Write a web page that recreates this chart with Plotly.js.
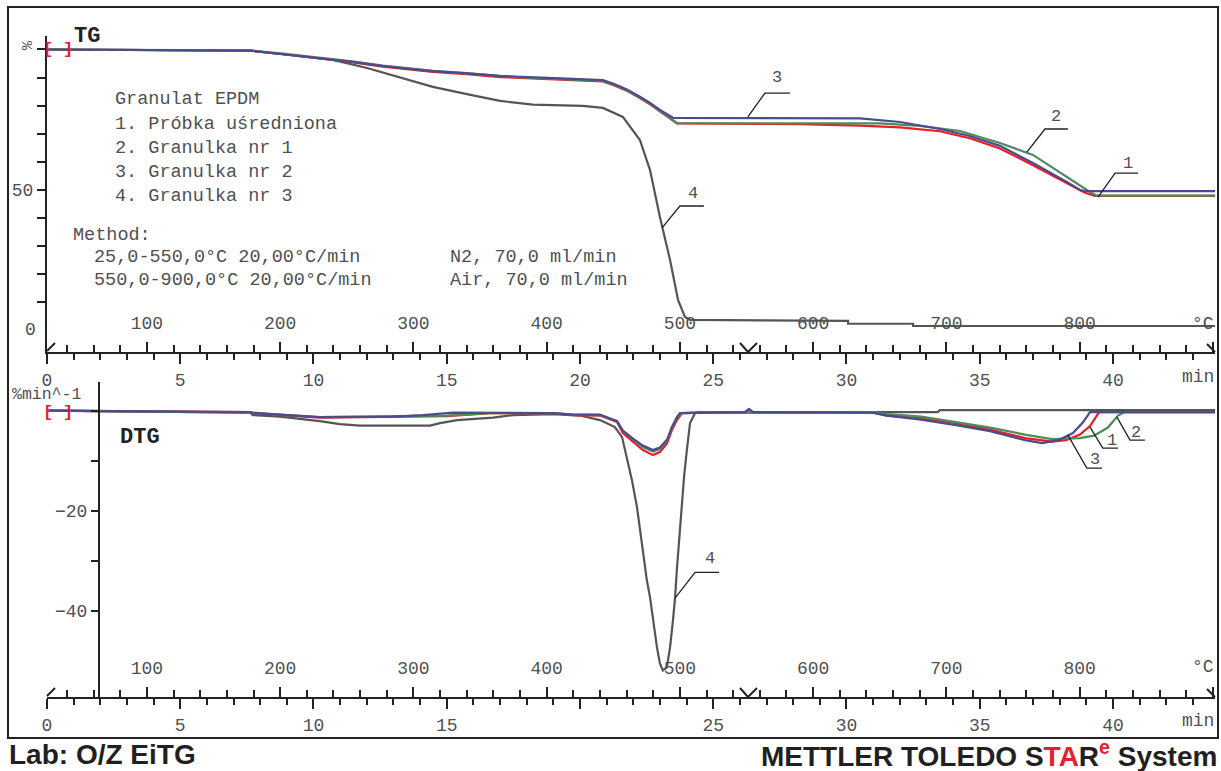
<!DOCTYPE html>
<html><head><meta charset="utf-8">
<script src="https://cdn.plot.ly/plotly-3.0.1.min.js"></script>
<style>body{margin:0;background:#fff}</style>
</head><body><div id="chart" style="width:1221px;height:771px"></div>
<script>
// ---------- DATA (time in min, TG in %, DTG in %/min) ----------
const tg1_t = [0, 7.62, 8.86, 10.13, 11.37, 12.61, 14.48, 15.76, 17.0, 19.51, 20.86, 21.24, 21.76, 22.25, 22.63, 23.0, 23.27, 23.49, 23.64, 28.26, 30.51, 32.01, 33.51, 34.63, 35.76, 37.0, 38.27, 38.95, 39.32, 43.83];
const tg1_v = [100, 99.6, 98.3, 97.0, 95.6, 93.9, 92.0, 91.2, 90.2, 89.2, 88.6, 87.4, 85.3, 82.7, 80.5, 78.0, 76.2, 74.9, 73.7, 73.4, 72.9, 72.3, 70.9, 68.4, 64.8, 58.8, 52.4, 49.0, 47.9, 47.9];
const tg2_t = [0, 7.62, 8.86, 10.13, 11.37, 12.61, 14.48, 15.76, 17.0, 19.51, 20.86, 21.24, 21.76, 22.25, 22.63, 23.0, 23.27, 23.49, 23.64, 31.26, 32.76, 34.26, 35.76, 37.0, 38.27, 39.14, 39.4, 43.83];
const tg2_v = [100, 99.7, 98.5, 97.3, 95.9, 94.3, 92.4, 91.6, 90.5, 89.4, 88.8, 87.6, 85.5, 82.9, 80.7, 78.2, 76.4, 75.0, 73.8, 73.7, 72.8, 71.0, 66.7, 62.5, 54.6, 49.3, 48.0, 48.0];
const tg3_t = [0, 7.62, 8.86, 10.13, 11.37, 12.61, 14.48, 15.76, 17.0, 19.51, 20.86, 21.24, 21.76, 22.25, 22.63, 23.0, 23.27, 23.49, 30.51, 32.01, 33.51, 34.63, 35.76, 37.0, 38.27, 38.76, 38.95, 43.83];
const tg3_v = [100, 99.6, 98.3, 97.1, 95.7, 94.1, 92.3, 91.5, 90.6, 89.6, 89.1, 87.9, 85.8, 83.2, 81.0, 78.5, 76.9, 75.7, 75.5, 74.2, 71.7, 69.2, 65.7, 59.6, 52.9, 50.0, 49.6, 49.6];
const tg4_t = [0, 7.62, 8.86, 10.13, 10.73, 12.01, 13.25, 14.48, 15.76, 17.0, 18.24, 20.11, 20.86, 21.61, 22.25, 22.63, 23.0, 23.38, 23.68, 23.94, 24.13, 30.06, 30.06, 32.5, 32.5, 43.83];
const tg4_v = [100, 99.6, 98.3, 97.0, 96.3, 93.4, 89.9, 86.7, 84.1, 81.7, 80.4, 79.9, 79.2, 76.0, 67.8, 57.1, 40.4, 25.1, 10.9, 4.8, 3.8, 3.4, 2.4, 2.4, 1.6, 1.6];

const dtg1_t = [0, 5, 7.62, 7.73, 8.74, 10.24, 15.01, 16.62, 18.99, 19.74, 20.75, 21.39, 21.61, 21.99, 22.36, 22.74, 23.0, 23.27, 23.45, 23.64, 23.83, 24.5, 30.99, 31.52, 32.8, 34.11, 35.39, 36.7, 37.71, 38.24, 38.76, 39.14, 39.48, 43.83];
const dtg1_v = [0, -0.2, -0.3, -0.5, -0.9, -1.4, -1.1, -0.5, -0.5, -0.9, -1.0, -2.3, -4.5, -6.3, -7.9, -8.9, -8.3, -6.5, -3.9, -1.9, -0.5, -0.4, -0.4, -1.0, -1.5, -2.5, -3.8, -5.5, -6.2, -5.9, -4.8, -3.1, -0.3, -0.3];
const dtg2_t = [0, 5, 7.62, 7.73, 8.74, 10.24, 15.01, 16.62, 18.99, 19.74, 20.75, 21.39, 21.61, 21.99, 22.36, 22.74, 23.0, 23.27, 23.45, 23.64, 23.83, 24.5, 30.99, 31.52, 32.8, 34.11, 35.39, 36.7, 37.71, 38.76, 39.29, 39.81, 40.19, 40.45, 43.83];
const dtg2_v = [0, -0.2, -0.3, -0.4, -0.8, -1.3, -1.0, -0.5, -0.5, -0.8, -0.9, -2.1, -4.1, -5.8, -7.3, -8.2, -7.7, -6.0, -3.5, -1.4, -0.5, -0.4, -0.3, -0.7, -1.2, -2.3, -3.4, -4.8, -5.7, -5.5, -5.0, -3.4, -1.0, -0.3, -0.3];
const dtg3_t = [0, 5, 7.62, 7.73, 8.74, 10.24, 12.98, 14.11, 15.24, 18.99, 19.74, 20.75, 21.39, 21.61, 21.99, 22.36, 22.74, 23.0, 23.27, 23.45, 23.64, 23.75, 26.19, 26.34, 26.49, 30.99, 31.52, 32.8, 34.11, 35.39, 36.7, 37.34, 37.97, 38.5, 38.87, 39.14, 43.83];
const dtg3_v = [0, -0.2, -0.3, -0.5, -0.8, -1.3, -1.2, -0.9, -0.4, -0.5, -0.8, -0.8, -2.1, -4.0, -5.6, -7.0, -7.9, -7.4, -5.8, -3.3, -1.3, -0.5, -0.3, 0.3, -0.3, -0.4, -1.0, -1.8, -2.9, -4.1, -5.9, -6.5, -5.9, -4.5, -2.4, -0.3, -0.3];
const dtg4_t = [0, 5, 7.62, 7.73, 8.74, 10.24, 10.99, 11.75, 14.37, 14.75, 15.39, 16.74, 17.49, 18.99, 20.0, 20.75, 21.31, 21.58, 21.76, 21.95, 22.14, 22.25, 22.36, 22.51, 22.63, 22.74, 22.89, 23.0, 23.11, 23.26, 23.38, 23.49, 23.57, 23.64, 23.75, 23.83, 23.91, 24.02, 24.13, 24.32, 24.5, 26.19, 26.34, 26.49, 33.43, 33.5, 43.83];
const dtg4_v = [0, -0.2, -0.4, -0.9, -1.2, -2.1, -2.7, -3.0, -3.0, -2.5, -1.9, -1.4, -0.9, -0.7, -1.0, -1.9, -3.3, -5.3, -9.3, -13.9, -19.3, -23.9, -28.5, -33.9, -37.3, -41.9, -47.3, -50.5, -51.9, -51.3, -47.3, -41.9, -37.3, -31.5, -24.0, -18.5, -13.0, -7.5, -2.5, -0.5, -0.3, -0.3, 0.3, -0.3, -0.3, 0.1, 0.1];

const timeLabelAliasBottom = {'20': ' '};
const legendLines = ['Granulat EPDM', '1. Próbka uśredniona', '2. Granulka nr 1', '3. Granulka nr 2', '4. Granulka nr 3'];
const methodLines = ['Method:', '25,0-550,0°C 20,00°C/min', '550,0-900,0°C 20,00°C/min'];
const gasLines = ['N2, 70,0 ml/min', 'Air, 70,0 ml/min'];
const T_MAX = 43.83;          // min
const T_START = 25, RATE = 20; // °C, °C/min

// ---------- STYLE ----------
const FONT = 'Liberation Mono, Courier New, monospace';
const TXT = '#505050';
const AX = '#222';
const C1 = '#ea1c24', C2 = '#4d8a5c', C3 = '#4b4b8e', C4 = '#555555';
const L = 47, R = 1215, T = 36, B = 697;
const px = x => (x - L) / (R - L);
const py = y => (B - y) / (B - T);
const tempRange = [T_START, T_START + RATE * T_MAX];

function tr(t, v, c, xa, ya) {
  return {x: t, y: v, type: 'scatter', mode: 'lines', xaxis: xa, yaxis: ya,
          line: {color: c, width: 2.2}, hoverinfo: 'skip'};
}
// invisible helper traces so the temperature axes get drawn
function ghost(xa, ya, yv) {
  return {x: tempRange, y: [yv, yv], type: 'scatter', mode: 'lines', xaxis: xa, yaxis: ya,
          line: {color: 'rgba(0,0,0,0)', width: 0}, hoverinfo: 'skip'};
}
const traces = [
  ghost('x3', 'y', 50), ghost('x4', 'y2', -20),
  tr(tg4_t, tg4_v, C4, 'x', 'y'), tr(tg1_t, tg1_v, C1, 'x', 'y'),
  tr(tg2_t, tg2_v, C2, 'x', 'y'), tr(tg3_t, tg3_v, C3, 'x', 'y'),
  tr(dtg4_t, dtg4_v, C4, 'x2', 'y2'), tr(dtg1_t, dtg1_v, C1, 'x2', 'y2'),
  tr(dtg2_t, dtg2_v, C2, 'x2', 'y2'), tr(dtg3_t, dtg3_v, C3, 'x2', 'y2')
];

const tickFont = {family: FONT, size: 18, color: TXT};
function timeAxis(anchor, alias) {
  return {domain: [0, 1], anchor: anchor, range: [0, T_MAX], showline: true, linecolor: AX, linewidth: 2,
    showgrid: false, zeroline: false, tickmode: 'linear', tick0: 0, dtick: 5, labelalias: alias || {},
    ticks: 'outside', ticklen: 10, tickwidth: 2, tickcolor: AX, tickfont: tickFont,
    minor: {tickmode: 'linear', tick0: 0, dtick: 1, ticks: 'outside', ticklen: 6, tickwidth: 2, tickcolor: AX, showgrid: false}};
}
function tempAxis(over, anchor) {
  return {overlaying: over, anchor: anchor, side: 'bottom', range: tempRange, showline: false,
    showgrid: false, zeroline: false, tickmode: 'linear', tick0: 0, dtick: 100, labelalias: {'900': ' '},
    ticks: 'inside', ticklabelposition: 'inside', ticklabelstandoff: 10, ticklen: 10, tickwidth: 2, tickcolor: AX, tickfont: tickFont,
    minor: {tickmode: 'linear', tick0: 0, dtick: 20, ticks: 'inside', ticklen: 7, tickwidth: 2, tickcolor: AX, showgrid: false}};
}

const annotations = [];
function txt(x, y, s, opts) {
  annotations.push(Object.assign({xref: 'paper', yref: 'paper', x: px(x), y: py(y), text: s, showarrow: false,
    xanchor: 'left', yanchor: 'middle', font: {family: FONT, size: 18.5, color: TXT}}, opts || {}));
}
const legY = [100, 125, 148, 172, 196];
legendLines.forEach((s, i) => txt(113, legY[i], s));
txt(71, 235, methodLines[0]);
txt(92, 257, methodLines[1]);
txt(92, 280, methodLines[2]);
txt(448, 257, gasLines[0]);
txt(448, 280, gasLines[1]);
txt(72, 36, '<b>TG</b>', {font: {family: FONT, size: 22, color: AX}});
txt(118, 438, '<b>DTG</b>', {font: {family: FONT, size: 22, color: AX}});
txt(28, 45, '%', {xanchor: 'center', textangle: -90, font: {family: FONT, size: 15, color: TXT}});
txt(38, 330, '0', {xanchor: 'right', font: tickFont});
txt(10, 394, '%min^-1', {font: {family: FONT, size: 16.5, color: TXT}});
txt(1216, 324, '°C', {xanchor: 'right', font: {family: FONT, size: 18, color: TXT}});
txt(1216, 377, 'min', {xanchor: 'right', font: {family: FONT, size: 18, color: TXT}});
txt(1216, 667, '°C', {xanchor: 'right', font: {family: FONT, size: 18, color: TXT}});
txt(1216, 721, 'min', {xanchor: 'right', font: {family: FONT, size: 18, color: TXT}});
txt(7, 754, '<b>Lab: O/Z EiTG</b>', {font: {family: 'Liberation Sans, Arial, sans-serif', size: 28, color: '#231f20'}});
txt(1219, 754, '<b>METTLER TOLEDO S<span style="color:#e8202a">TA</span>R<sup><span style="color:#e8202a">e</span></sup> System</b>',
    {xanchor: 'right', font: {family: 'Liberation Sans, Arial, sans-serif', size: 28, color: '#231f20'}});

// start-of-evaluation brackets
function brk(xa, ya, t, v, s) {
  annotations.push({xref: xa, yref: ya, x: t, y: v, text: '<b>' + s + '</b>', showarrow: false,
    font: {family: FONT, size: 17, color: '#e8202a'}});
}
brk('x', 'y', 0.02, 100, '['); brk('x', 'y', 0.77, 100, ']');
brk('x2', 'y2', 0.02, -0.4, '['); brk('x2', 'y2', 0.77, -0.4, ']');

// curve labels with leader lines
const shapes = [];
function lead(xa, ya, pts, lbl, lx, ly) {
  shapes.push({type: 'path', xref: xa, yref: ya,
    path: 'M' + pts.map(p => p[0] + ',' + p[1]).join(' L'), line: {color: AX, width: 1.3}});
  annotations.push({xref: xa, yref: ya, x: lx, y: ly, text: lbl, showarrow: false,
    font: {family: FONT, size: 17, color: TXT}});
}
lead('x', 'y', [[26.3, 76.0], [26.94, 84.5], [27.88, 84.5]], '3', 27.39, 90.2);
lead('x', 'y', [[23.08, 36.5], [23.75, 44.3], [24.65, 44.3]], '4', 24.24, 48.9);
lead('x', 'y', [[36.77, 63.5], [37.45, 71.7], [38.31, 71.7]], '2', 37.86, 76.0);
lead('x', 'y', [[39.44, 47.5], [40.08, 56.0], [40.94, 56.0]], '1', 40.56, 59.5);
lead('x2', 'y2', [[23.56, -37.5], [24.32, -32.3], [25.22, -32.3]], '4', 24.88, -29.5);
lead('x2', 'y2', [[38.31, -4.9], [39.02, -11.5], [39.59, -11.5]], '3', 39.32, -9.7);
lead('x2', 'y2', [[39.14, -3.3], [39.62, -7.5], [40.19, -7.5]], '1', 39.96, -5.9);
lead('x2', 'y2', [[40.15, -1.3], [40.64, -5.9], [41.2, -5.9]], '2', 40.86, -4.3);

// decorations: axis break marks and frame
function pline(pts, w) {
  shapes.push({type: 'path', xref: 'paper', yref: 'paper',
    path: 'M' + pts.map(p => px(p[0]) + ',' + py(p[1])).join(' L'), line: {color: AX, width: w || 2}});
}
[352, 697].forEach(y => {
  pline([[47, y - 1], [55, y - 9]]);
  pline([[740, y - 9], [748, y], [757, y - 9]]);
  pline([[1207, y - 8], [1215, y]]);
});
shapes.push({type: 'rect', xref: 'paper', yref: 'paper', x0: px(8), x1: px(1218), y0: py(738), y1: py(7),
  line: {color: AX, width: 2}, fillcolor: 'rgba(0,0,0,0)'});

const layout = {
  width: 1221, height: 771, margin: {l: L, r: 1221 - R, t: T, b: 771 - B, pad: 0},
  paper_bgcolor: '#fff', plot_bgcolor: '#fff', showlegend: false,
  xaxis: timeAxis('y'),
  xaxis3: tempAxis('x', 'y'),
  xaxis2: timeAxis('y2', timeLabelAliasBottom),
  xaxis4: tempAxis('x2', 'y2'),
  yaxis: {domain: [py(352), 1], anchor: 'x', range: [-7.65, 104.8], showline: true, linecolor: AX, linewidth: 2,
    showgrid: false, zeroline: false, tickmode: 'linear', tick0: 0, dtick: 50, labelalias: {'0': ' ', '100': ' '},
    ticks: 'outside', ticklen: 8, tickwidth: 2, tickcolor: AX, tickfont: tickFont,
    minor: {tickmode: 'linear', tick0: 0, dtick: 10, ticks: 'outside', ticklen: 8, tickwidth: 2, tickcolor: AX, showgrid: false}},
  yaxis2: {domain: [0, py(382)], anchor: 'free', position: px(99), range: [-57.2, 5.7], showline: true, linecolor: AX, linewidth: 2,
    showgrid: false, zeroline: false, tickmode: 'linear', tick0: 0, dtick: 20, labelalias: {'0': ' '},
    ticks: 'outside', ticklen: 7, tickwidth: 2, tickcolor: AX, tickfont: tickFont,
    minor: {tickmode: 'linear', tick0: 0, dtick: 10, ticks: 'outside', ticklen: 7, tickwidth: 2, tickcolor: AX, showgrid: false}},
  annotations: annotations, shapes: shapes
};
Plotly.newPlot('chart', traces, layout, {displayModeBar: false, staticPlot: true});
</script>
</body></html>
